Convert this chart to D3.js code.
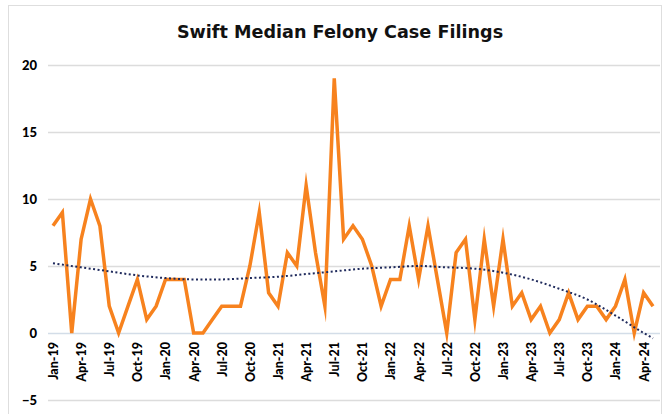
<!DOCTYPE html>
<html><head><meta charset="utf-8">
<script src="https://cdn.jsdelivr.net/npm/d3@7"></script>
<style>body{margin:0;background:#fff;}svg{display:block;}</style>
</head><body>
<svg id="c" width="668" height="414"></svg>
<script>
const months = ["Jan-19","Feb-19","Mar-19","Apr-19","May-19","Jun-19","Jul-19","Aug-19","Sep-19","Oct-19","Nov-19","Dec-19",
"Jan-20","Feb-20","Mar-20","Apr-20","May-20","Jun-20","Jul-20","Aug-20","Sep-20","Oct-20","Nov-20","Dec-20",
"Jan-21","Feb-21","Mar-21","Apr-21","May-21","Jun-21","Jul-21","Aug-21","Sep-21","Oct-21","Nov-21","Dec-21",
"Jan-22","Feb-22","Mar-22","Apr-22","May-22","Jun-22","Jul-22","Aug-22","Sep-22","Oct-22","Nov-22","Dec-22",
"Jan-23","Feb-23","Mar-23","Apr-23","May-23","Jun-23","Jul-23","Aug-23","Sep-23","Oct-23","Nov-23","Dec-23",
"Jan-24","Feb-24","Mar-24","Apr-24","May-24"];
const filings = [8,9,0,7,10,8,2,0,2,4,1,2,
4,4,4,0,0,1,2,2,2,5,9,3,
2,6,5,11,6,2,19,7,8,7,5,2,
4,4,8,4,8,4,0,6,7,1,7,2,
7,2,3,1,2,0,1,3,1,2,2,1,
2,4,0,3,2];
const trendMonths = ["Jan-19","Apr-19","Jul-19","Oct-19","Jan-20","Apr-20","Jul-20","Oct-20","Jan-21","Apr-21","Jul-21","Oct-21",
"Jan-22","Apr-22","Jul-22","Oct-22","Jan-23","Apr-23","Jul-23","Oct-23","Jan-24","Apr-24","May-24"];
const trendValues = [5.2,4.9,4.6,4.3,4.1,4.0,4.0,4.1,4.2,4.4,4.6,4.8,
4.9,5.0,4.9,4.8,4.5,4.0,3.3,2.5,1.3,0.0,-0.4];
const tickLabels = months.filter((m,i)=>i%3===0);
const yTicks = [-5,0,5,10,15,20];

const svg = d3.select("#c");
svg.append("rect").attr("x",8.5).attr("y",5.5).attr("width",653).attr("height",420)
  .attr("fill","#fff").attr("stroke","#dedede");

const x = d3.scalePoint().domain(months).range([53,653]);
const y = d3.scaleLinear().domain([-5,20]).range([400,65]);

// gridlines
svg.append("g").selectAll("line").data(yTicks).join("line")
  .attr("x1",48).attr("x2",660)
  .attr("y1",d=>y(d)+0.5).attr("y2",d=>y(d)+0.5)
  .attr("stroke",d=>d===0?"#d3dde8":"#dcdcdc").attr("stroke-width",1.3);

// y axis labels
const yAxis = d3.axisLeft(y).tickValues(yTicks).tickSize(0).tickPadding(0).tickFormat(d3.format("d"));
const gy = svg.append("g").attr("transform","translate(37,0)").call(yAxis);
gy.select(".domain").remove();
gy.selectAll("text").attr("font-family","Lato, 'Open Sans', sans-serif").attr("font-weight","900")
  .attr("font-size","13px").attr("fill","#000");

// x axis labels
const xAxis = d3.axisBottom(x).tickValues(tickLabels).tickSize(0).tickPadding(0);
const gx = svg.append("g").attr("transform","translate(0,"+y(0)+")").call(xAxis);
gx.select(".domain").remove();
gx.selectAll("text").attr("font-family","Lato, 'Open Sans', sans-serif").attr("font-weight","900")
  .attr("font-size","12.5px").attr("fill","#000")
  .attr("transform","rotate(-90)").attr("text-anchor","end")
  .attr("x",-9).attr("y",0).attr("dy","0.35em");

// main line
const line = d3.line().x((d,i)=>x(months[i])).y(d=>y(d));
svg.append("path").datum(filings).attr("d",line)
  .attr("fill","none").attr("stroke","#F7821E").attr("stroke-width",3.5)
  .attr("stroke-linejoin","miter").attr("stroke-miterlimit",10);

// trendline
const tline = d3.line().x((d,i)=>x(trendMonths[i])).y(d=>y(d)).curve(d3.curveMonotoneX);
svg.append("path").datum(trendValues).attr("d",tline)
  .attr("fill","none").attr("stroke","#1F2A5C").attr("stroke-width",2)
  .attr("stroke-dasharray","2,2.5");

// title
svg.append("text").attr("x",340).attr("y",38).attr("text-anchor","middle")
  .attr("font-family","'DejaVu Sans', sans-serif").attr("font-weight","bold")
  .attr("font-size","17.6px").attr("fill","#111")
  .text("Swift Median Felony Case Filings");
</script>
</body></html>
